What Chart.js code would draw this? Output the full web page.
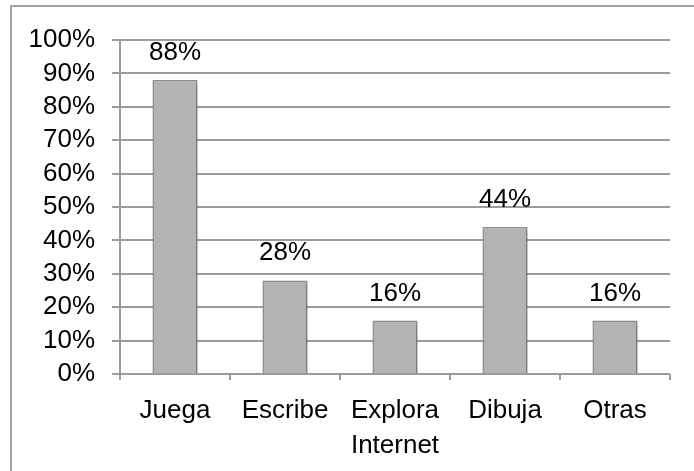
<!DOCTYPE html>
<html>
<head>
<meta charset="utf-8">
<script src="https://cdn.jsdelivr.net/npm/chart.js@4.4.0/dist/chart.umd.min.js"></script>
<style>
  html, body { margin: 0; padding: 0; background: #fff; }
  #wrap { width: 694px; height: 471px; position: relative; }
</style>
</head>
<body>
<div id="wrap"><canvas id="grafico"></canvas></div>
<script>
// Datos del gráfico
const categorias = ['Juega', 'Escribe', ['Explora', 'Internet'], 'Dibuja', 'Otras'];
const porcentajes = [88, 28, 16, 44, 16];
const ticksY = [0, 10, 20, 30, 40, 50, 60, 70, 80, 90, 100];

const fuente = "'Liberation Sans', Arial, sans-serif";
const gris = '#9b9b9b';

// borde exterior (solo izquierda y arriba se ven)
const bordeExterior = {
    id: 'bordeExterior',
    beforeDraw(chart) {
        const ctx = chart.ctx;
        ctx.save();
        ctx.strokeStyle = '#a3a3a3';
        ctx.lineWidth = 2;
        ctx.strokeRect(11, 6, 700, 480);
        ctx.restore();
    }
};

// sombra suave de las barras
const sombraBarras = {
    id: 'sombraBarras',
    beforeDatasetsDraw(chart) {
        const ctx = chart.ctx;
        ctx.save();
        ctx.shadowColor = 'rgba(0,0,0,0.25)';
        ctx.shadowBlur = 4;
        ctx.shadowOffsetX = 2;
        ctx.shadowOffsetY = 2;
    },
    afterDatasetsDraw(chart) {
        chart.ctx.restore();
    }
};

// etiquetas encima de cada barra
const etiquetas = {
    id: 'etiquetas',
    afterDatasetsDraw(chart) {
        const ctx = chart.ctx;
        const meta = chart.getDatasetMeta(0);
        ctx.save();
        ctx.font = '26px ' + fuente;
        ctx.fillStyle = '#000';
        ctx.textAlign = 'center';
        ctx.textBaseline = 'alphabetic';
        meta.data.forEach((bar, i) => {
            ctx.fillText(porcentajes[i] + '%', bar.x, bar.y - 20);
        });
        ctx.restore();
    }
};

new Chart(document.getElementById('grafico'), {
    type: 'bar',
    data: {
        labels: categorias,
        datasets: [{
            data: porcentajes,
            backgroundColor: '#b3b3b3',
            borderColor: '#8e8e8e',
            borderWidth: 1.5,
            categoryPercentage: 1,
            barPercentage: 0.41
        }]
    },
    options: {
        responsive: true,
        maintainAspectRatio: false,
        animation: false,
        layout: { padding: { top: 40, right: 24, left: 0, bottom: 0 } },
        plugins: {
            legend: { display: false },
            tooltip: { enabled: false }
        },
        scales: {
            x: {
                grid: {
                    drawOnChartArea: false,
                    drawTicks: true,
                    tickLength: 6,
                    color: gris,
                    lineWidth: 2
                },
                border: { display: false },
                ticks: {
                    color: '#000',
                    font: { family: fuente, size: 26, lineHeight: 1.32 },
                    padding: 14,
                    maxRotation: 0,
                    autoSkip: false
                },
                afterFit(scale) { scale.height = 97; }
            },
            y: {
                min: 0,
                max: 100,
                afterBuildTicks(scale) {
                    scale.ticks = ticksY.map(v => ({ value: v }));
                },
                grid: {
                    color: gris,
                    lineWidth: 2,
                    tickLength: 8
                },
                border: { display: true, color: gris, width: 2 },
                ticks: {
                    color: '#000',
                    font: { family: fuente, size: 26 },
                    padding: 17,
                    autoSkip: false,
                    callback: v => v + '%'
                },
                afterFit(scale) { scale.width = 120; }
            }
        }
    },
    plugins: [bordeExterior, sombraBarras, etiquetas]
});
</script>
</body>
</html>
